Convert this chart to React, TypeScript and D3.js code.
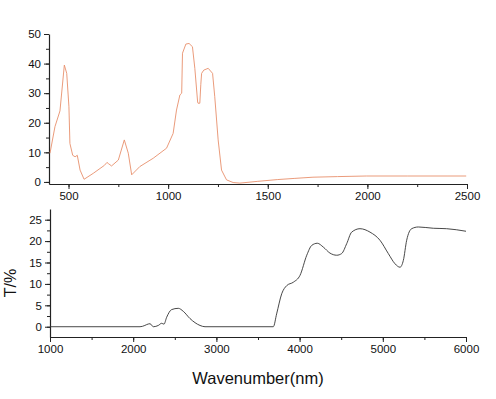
import React, { useRef, useEffect } from 'react';
import * as d3 from 'd3';

// top panel: transmittance curve (orange)
const topX = [407, 432, 457, 479, 491, 502, 507, 521, 533, 544, 558, 578, 624, 680, 693, 700, 716, 750, 780, 800, 817, 858, 925, 992, 1025, 1042, 1059, 1068, 1072, 1089, 1105, 1122, 1134, 1148, 1150, 1159, 1164, 1168, 1179, 1201, 1223, 1234, 1251, 1268, 1293, 1326, 1360, 1450, 1550, 1636, 1727, 1850, 1995, 2200, 2400, 2496];
const topY = [9.7, 18.7, 24, 39.5, 36.7, 25.4, 13, 9, 8.5, 9, 4, 0.9, 2.9, 5.6, 6.6, 6.2, 5.4, 7.4, 14.2, 9.7, 2.4, 5.2, 8, 11.4, 16.4, 24.3, 29.4, 30, 43.5, 46.6, 46.8, 45.7, 38.4, 27, 26.6, 26.6, 33, 36.7, 37.8, 38.4, 36.7, 28.8, 14.2, 4, 0.7, -0.2, -0.4, 0.2, 0.8, 1.2, 1.6, 1.8, 2, 2, 2, 2];

// bottom panel: T/% vs wavenumber
const botX = [1000, 2082, 2140, 2162, 2202, 2242, 2302, 2342, 2370, 2402, 2462, 2542, 2602, 2683, 2803, 2863, 3684, 3724, 3785, 3845, 3925, 4005, 4086, 4146, 4213, 4285, 4365, 4446, 4506, 4566, 4626, 4726, 4846, 4966, 5066, 5147, 5207, 5247, 5287, 5347, 5427, 5607, 5767, 6000];
const botY = [0, 0, 0.3, 0.5, 0.7, 0.0, 0.3, 0.8, 0.6, 2.2, 4.0, 4.3, 3.6, 1.9, 0.3, 0, 0, 3.0, 7.7, 9.6, 10.4, 12, 16.7, 19, 19.5, 18.6, 17.2, 16.7, 17.1, 19.4, 22.1, 22.9, 22.1, 20.2, 17.1, 14.7, 13.9, 15.5, 20.2, 22.9, 23.3, 23, 22.9, 22.3];

const topXTicks = [500, 1000, 1500, 2000, 2500];
const topYTicks = [0, 10, 20, 30, 40, 50];
const botXTicks = [1000, 2000, 3000, 4000, 5000, 6000];
const botYTicks = [0, 5, 10, 15, 20, 25];

const W = 496;
const H = 399;
const FONT = '"Liberation Sans", Arial, sans-serif';

const App: React.FC = () => {
    const svgRef = useRef<SVGSVGElement | null>(null);

    useEffect(() => {
        const svg = d3.select(svgRef.current);
        svg.selectAll('*').remove();

        const panel = (
            xs: number[], ys: number[], xDom: [number, number], yDom: [number, number],
            xRange: [number, number], yRange: [number, number],
            xTicks: number[], yTicks: number[], xMinor: number, yMinor: number,
            color: string, curve: d3.CurveFactory
        ) => {
            const x = d3.scaleLinear().domain(xDom).range(xRange);
            const y = d3.scaleLinear().domain(yDom).range(yRange);
            const g = svg.append('g');

            const minorX = d3.range(Math.ceil(xDom[0] / xMinor) * xMinor, xDom[1] + 1, xMinor);
            const minorY = d3.range(Math.ceil(yDom[0] / yMinor) * yMinor, yDom[1], yMinor);

            // minor ticks
            g.append('g')
                .attr('transform', `translate(0,${yRange[0]})`)
                .call(d3.axisBottom(x).tickValues(minorX).tickSize(3).tickFormat(() => ''))
                .call(a => a.select('.domain').remove());
            g.append('g')
                .attr('transform', `translate(${xRange[0]},0)`)
                .call(d3.axisLeft(y).tickValues(minorY).tickSize(3).tickFormat(() => ''))
                .call(a => a.select('.domain').remove());

            const xa = g.append('g')
                .attr('transform', `translate(0,${yRange[0]})`)
                .call(d3.axisBottom(x).tickValues(xTicks).tickSize(5).tickSizeOuter(0).tickPadding(3).tickFormat(d3.format('d')));
            const ya = g.append('g')
                .attr('transform', `translate(${xRange[0]},0)`)
                .call(d3.axisLeft(y).tickValues(yTicks).tickSize(5).tickSizeOuter(0).tickPadding(3).tickFormat(d3.format('d')));

            [xa, ya].forEach(a => {
                a.selectAll('text').style('font-family', FONT).style('font-size', '11.5px').attr('fill', '#111');
                a.select('.domain').attr('stroke', '#222').attr('stroke-width', 1.2);
            });

            const line = d3.line<number>()
                .x((_, i) => x(xs[i]))
                .y(d => y(d))
                .curve(curve);

            g.append('path')
                .datum(ys)
                .attr('d', line)
                .attr('fill', 'none')
                .attr('stroke', color)
                .attr('stroke-width', 0.9);
            g.selectAll('.tick line').attr('stroke', '#222');
        };

        panel(topX, topY, [402, 2500], [-0.7, 50], [49, 467], [184, 34],
            topXTicks, topYTicks, 250, 5, '#e8906c', d3.curveLinear);
        panel(botX, botY, [1000, 6000], [-2.4, 27.5], [50, 466], [337, 209],
            botXTicks, botYTicks, 500, 2.5, '#333', d3.curveMonotoneX);

        svg.append('text')
            .attr('transform', 'translate(16,283) rotate(-90)')
            .attr('text-anchor', 'middle')
            .style('font-family', FONT)
            .style('font-size', '16px')
            .attr('fill', '#111')
            .text('T/%');

        svg.append('text')
            .attr('x', 258)
            .attr('y', 384)
            .attr('text-anchor', 'middle')
            .style('font-family', FONT)
            .style('font-size', '16.5px')
            .attr('fill', '#111')
            .text('Wavenumber(nm)');
    }, []);

    return (
        <svg
            ref={svgRef}
            width={W}
            height={H}
            style={{ position: 'absolute', left: 0, top: 0, background: '#fff' }}
        ></svg>
    );
};

export default App;
